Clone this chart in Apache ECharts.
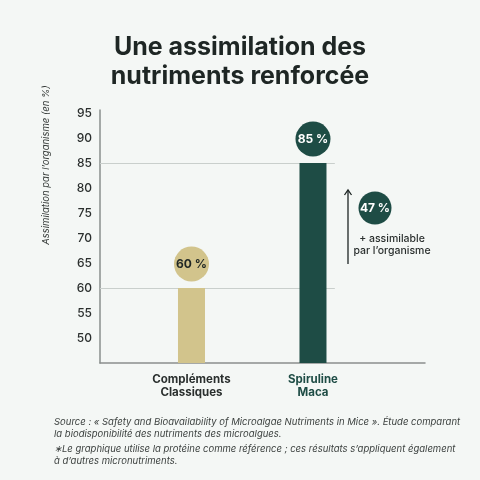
<!DOCTYPE html>
<head>
    <meta charset="utf-8">
    <title>Assimilation des nutriments</title>
    <script src="https://cdn.jsdelivr.net/npm/echarts@6/dist/echarts.min.js"></script>
    <style>
        html, body { margin: 0; padding: 0; background: #f4f7f5; }
        #main { width: 480px; height: 480px; }
    </style>
</head>
<body>
    <div id="main"></div>
    <script type="text/javascript">
        // donnees
        var categories = ['Compléments\nClassiques', 'Spiruline\nMaca'];
        var values = [60, 85];
        var yTicks = [50, 55, 60, 65, 70, 75, 80, 85, 90, 95];
        var gainLabel = '47 %';

        var barColors = ['#d2c48c', '#1e4c45'];
        var badgeText = ['#1e2624', '#ffffff'];
        var catText = ['#2a2f2e', '#1e4c45'];

        var myChart = echarts.init(document.getElementById('main'));

        var barData = values.map(function (v, i) {
            return {
                value: [i + 1, v],
                itemStyle: { color: barColors[i] },
                label: { color: catText[i] }
            };
        });
        var badgeData = values.map(function (v, i) {
            return {
                value: [i + 1, v],
                itemStyle: { color: barColors[i], opacity: 1 },
                label: { color: badgeText[i] }
            };
        });
        var refLines = values.map(function (v) {
            return [{ xAxis: 0.247, yAxis: v }, { xAxis: 2.18, yAxis: v }];
        });

        var option = {
            backgroundColor: '#f4f7f5',
            textStyle: { fontFamily: 'Inter' },
            title: {
                text: 'Une assimilation des\nnutriments renforcée',
                left: 'center',
                top: 28,
                textStyle: {
                    fontFamily: 'Inter',
                    fontSize: 25,
                    fontWeight: 'bold',
                    lineHeight: 29,
                    color: '#1e2624'
                }
            },
            grid: { left: 100, right: 55, top: 110, bottom: 117 },
            xAxis: {
                type: 'value',
                min: 0.247,
                max: 2.922,
                axisLabel: { show: false },
                axisTick: { show: false },
                splitLine: { show: false },
                axisLine: { show: true, lineStyle: { color: '#8a8f8d', width: 1.5 } }
            },
            yAxis: {
                type: 'value',
                min: 45,
                max: 95.6,
                interval: 5,
                axisTick: { show: false },
                splitLine: { show: false },
                axisLine: { show: true, lineStyle: { color: '#8a8f8d', width: 1.5 } },
                axisLabel: {
                    margin: 8,
                    fontSize: 12,
                    fontWeight: 500,
                    color: '#2b2f2e',
                    formatter: function (v) {
                        return yTicks.indexOf(v) >= 0 ? String(v) : '';
                    }
                }
            },
            series: [
                {
                    type: 'bar',
                    barWidth: 27,
                    data: barData,
                    label: {
                        show: true,
                        position: 'bottom',
                        distance: 10,
                        fontSize: 11.5,
                        fontWeight: 'bold',
                        lineHeight: 13,
                        formatter: function (p) { return categories[p.dataIndex]; }
                    },
                    markLine: {
                        silent: true,
                        z: 1,
                        symbol: ['none', 'none'],
                        label: { show: false },
                        lineStyle: { color: '#c9cfcc', type: 'solid', width: 1 },
                        data: refLines
                    },
                    z: 2
                },
                {
                    type: 'scatter',
                    symbol: 'circle',
                    symbolSize: 35,
                    symbolOffset: [0, -24],
                    data: badgeData,
                    label: {
                        show: true,
                        position: 'inside',
                        fontSize: 12,
                        fontWeight: 'bold',
                        formatter: function (p) { return p.value[1] + ' %'; }
                    },
                    z: 3
                }
            ],
            graphic: [
                {
                    type: 'line',
                    shape: { x1: 348, y1: 264, x2: 348, y2: 190 },
                    style: { stroke: '#1e2624', lineWidth: 1.3 }
                },
                {
                    type: 'polyline',
                    shape: { points: [[344.5, 195], [348, 190], [351.5, 195]] },
                    style: { stroke: '#1e2624', lineWidth: 1.3, fill: null }
                },
                {
                    type: 'circle',
                    shape: { cx: 375, cy: 208, r: 16.5 },
                    style: { fill: '#1e4c45' }
                },
                {
                    type: 'text',
                    x: 375, y: 208,
                    style: {
                        text: gainLabel, fill: '#ffffff', font: 'bold 12px Inter',
                        align: 'center', verticalAlign: 'middle'
                    }
                },
                {
                    type: 'text',
                    x: 392, y: 245,
                    style: {
                        text: '+ assimilable\npar l\u2019organisme', fill: '#2a2f2e',
                        font: '500 10.5px Inter', lineHeight: 12,
                        align: 'center', verticalAlign: 'middle'
                    }
                },
                {
                    type: 'text',
                    x: 46, y: 165,
                    rotation: Math.PI / 2,
                    style: {
                        text: 'Assimilation par l\u2019organisme (en %)', fill: '#333836',
                        font: 'italic 9.5px Inter',
                        align: 'center', verticalAlign: 'middle'
                    }
                },
                {
                    type: 'text',
                    left: 54, top: 416,
                    style: {
                        text: 'Source : « Safety and Bioavailability of Microalgae Nutriments in Mice ». Étude comparant\nla biodisponibilité des nutriments des microalgues.',
                        fill: '#3d4240', font: 'italic 9.5px Inter', lineHeight: 12
                    }
                },
                {
                    type: 'text',
                    left: 54, top: 443,
                    style: {
                        text: '\u2217Le graphique utilise la protéine comme référence ; ces résultats s\u2019appliquent également\nà d\u2019autres micronutriments.',
                        fill: '#3d4240', font: 'italic 9.5px Inter', lineHeight: 12
                    }
                }
            ]
        };
        myChart.setOption(option);
    </script>
</body>
